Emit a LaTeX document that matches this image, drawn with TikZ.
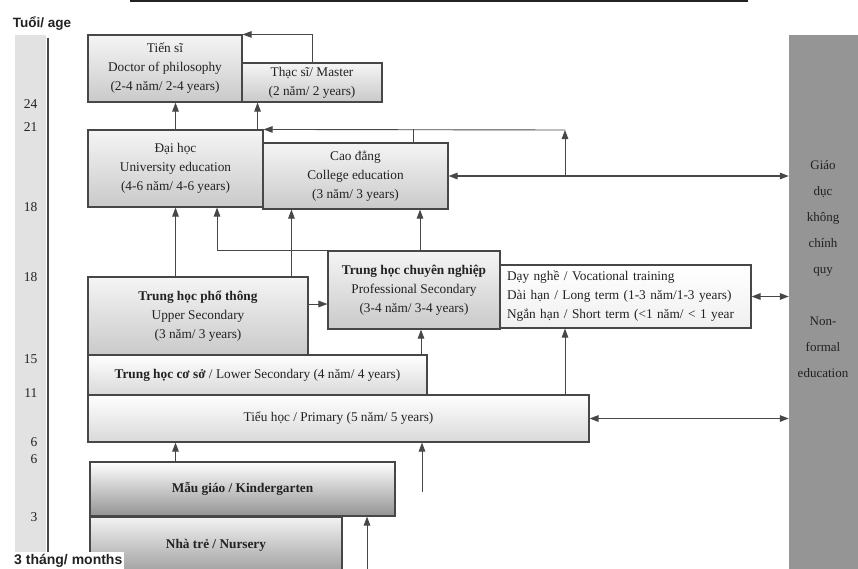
\documentclass[tikz,border=0pt]{standalone}
\usepackage{fontspec}
\setmainfont{Liberation Serif}
\newfontfamily\agefont{Liberation Sans}
\usetikzlibrary{arrows.meta,positioning,calc}
\definecolor{ink}{HTML}{222222}
\definecolor{edge}{HTML}{474747}
\definecolor{strip}{HTML}{E2E2E2}
\definecolor{nfgray}{HTML}{959595}
\newcommand{\bx}{\fontsize{13.3}{19}\selectfont}

\begin{document}
\begin{tikzpicture}[x=1pt,y=-1pt,
  box/.style={draw=edge,line width=1.1pt,align=center,inner sep=0pt,text=ink,font=\bx},
  level/.style={box,top color=gray!8,bottom color=gray!42},
  lowlevel/.style={box,top color=white,bottom color=gray!30},
  arr/.style={edge,line width=0.9pt,-{Triangle[length=9pt,width=6.5pt]}},
  dbl/.style={edge,line width=1.4pt,{Triangle[length=9pt,width=6.5pt]}-{Triangle[length=9pt,width=6.5pt]}},
  agelbl/.style={anchor=east,text=ink,font=\fontsize{13.5}{14}\selectfont}]
  \useasboundingbox (0,0) rectangle (858,568);
  \fill[white] (0,0) rectangle (858,568);
  \draw[ink,line width=2.4pt] (130,1.2) -- (748,1.2);

  % AGE AXIS
  \fill[strip] (15,35) rectangle (46,556);
  \draw[edge,line width=1.3pt] (48,38) -- (48,562);
  \node[text=ink,font=\agefont\bfseries\fontsize{13.5}{14}\selectfont] (agetitle) at (42,23) {Tuổi/ age};
  \foreach \a/\y in {24/104,21/127,18/207,18/277,15/359,11/393,6/442,6/459,3/517}
    \node[agelbl] (age-\y) at (41,\y) {\a};

  % HIGHER LEVELS
  \node[level,minimum width=154pt,minimum height=67pt] (TS) at (165,68.5)
    {Tiến sĩ\\Doctor of philosophy\\(2-4 năm/ 2-4 years)};
  \node[level,minimum width=140pt,minimum height=39pt] (ThS) at (312,82.5)
    {Thạc sĩ/ Master\\(2 năm/ 2 years)};
  \node[level,minimum width=175pt,minimum height=77pt] (DH) at (175.5,168.5)
    {Đại học\\University education\\(4-6 năm/ 4-6 years)};
  \node[level,minimum width=185pt,minimum height=66pt] (CD) at (355.5,176)
    {Cao đẳng\\College education\\(3 năm/ 3 years)};

  % SECONDARY
  \node[level,minimum width=220pt,minimum height=78pt] (THPT) at (198,316)
    {\textbf{Trung học phổ thông}\\Upper Secondary\\(3 năm/ 3 years)};
  \node[level,minimum width=172pt,minimum height=78pt] (THCN) at (414,290)
    {\textbf{Trung học chuyên nghiệp}\\Professional Secondary\\(3-4 năm/ 3-4 years)};
  \node[box,top color=white,bottom color=gray!12,minimum width=251pt,minimum height=63pt,
        text width=237pt,inner xsep=7pt,align=left] (DN) at (625.5,296.5)
    {Dạy nghề / Vocational training\\Dài hạn / Long term (1-3 năm/1-3 years)\\Ngắn hạn / Short term (<1 năm/ < 1 year};
  \node[lowlevel,minimum width=339pt,minimum height=40pt] (THCS) at (257.5,375)
    {\textbf{Trung học cơ sở} / Lower Secondary (4 năm/ 4 years)};
  \node[lowlevel,minimum width=501pt,minimum height=47pt] (TH) at (338.5,418.5)
    {Tiểu học / Primary (5 năm/ 5 years)};

  % EARLY YEARS
  \node[box,top color=white,bottom color=gray!85,minimum width=305pt,minimum height=54pt] (MG) at (242.5,489)
    {\textbf{Mẫu giáo / Kindergarten}};
  \node[box,top color=gray!10,bottom color=gray!75,minimum width=252pt,minimum height=56pt] (NT) at (216,545)
    {\textbf{Nhà trẻ / Nursery}};

  % NON-FORMAL
  \node[draw=nfgray,fill=nfgray,minimum width=73pt,minimum height=537pt,inner sep=0pt] (NF) at (825.5,303.5) {};
  \node[text=ink,align=center,font=\fontsize{13}{26}\selectfont] (NFtext) at (823,269)
    {Giáo\\dục\\không\\chính\\quy\\[26pt]Non-\\formal\\education};

  \node[fill=white,inner sep=2pt,anchor=west,text=ink,font=\agefont\bfseries\fontsize{14}{15}\selectfont] (months) at (12,561) {3 tháng/ months};

  % ARROWS
  \coordinate (riseNF) at (565,130);
  \coordinate (entryP) at (422,492);
  \coordinate (entryK) at (367,572);
  \draw[arr] (DH.north) -- (DH.north |- TS.south);
  \draw[arr] ([xshift=-6pt]DH.north east) -- ([xshift=-6pt]DH.north east |- ThS.south);
  \draw[arr] (ThS.north) |- (TS.north east);
  \draw[edge,line width=0.9pt] ([xshift=57.5pt]CD.north) -- ([xshift=57.5pt]CD.north |- DH.north);
  \draw[arr] (riseNF |- CD.east) -- (riseNF);
  \draw[arr] (riseNF) -- (DH.north east);
  \draw[arr] (DH.south |- THPT.north) -- (DH.south);
  \draw[arr] ([xshift=29pt]CD.south west |- THPT.north) -- ([xshift=29pt]CD.south west);
  \draw[arr] (THCN.north west) -| ([xshift=41.5pt]DH.south);
  \draw[arr] ([xshift=6pt]THCN.north) -- ([xshift=6pt]THCN.north |- CD.south);
  \draw[arr] ([yshift=12pt]THPT.east) -- ([yshift=12pt]THPT.east -| THCN.west);
  \draw[arr] ([xshift=7pt]THCN.south |- THCS.north) -- ([xshift=7pt]THCN.south);
  \draw[arr] ([xshift=-60.5pt]DN.south |- TH.north) -- ([xshift=-60.5pt]DN.south);
  \draw[dbl] (CD.east) -- (CD.east -| NF.west);
  \draw[dbl] (DN.east) -- (DN.east -| NF.west);
  \draw[dbl] (TH.east) -- (TH.east -| NF.west);
  \draw[arr] (DH.south |- MG.north) -- (DH.south |- TH.south);
  \draw[arr] (entryP) -- (entryP |- TH.south);
  \draw[arr] (entryK) -- (entryK |- MG.south);
\end{tikzpicture}
\end{document}
